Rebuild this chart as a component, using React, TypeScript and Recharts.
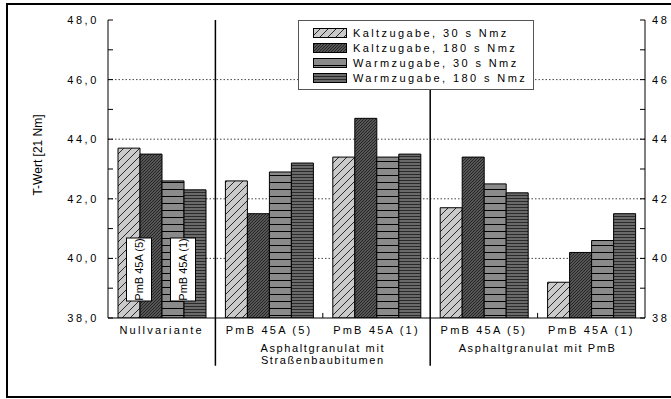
import { BarChart, Bar, XAxis, YAxis, CartesianGrid, ReferenceLine, LabelList } from 'recharts';

const categories = ['Nullvariante', 'PmB 45A (5)', 'PmB 45A (1)', 'PmB 45A (5)', 'PmB 45A (1)'];
const kalt30 = [43.7, 42.6, 43.4, 41.7, 39.2];
const kalt180 = [43.5, 41.5, 44.7, 43.4, 40.2];
const warm30 = [42.6, 42.9, 43.4, 42.5, 40.6];
const warm180 = [42.3, 43.2, 43.5, 42.2, 41.5];

const yTicks = [38, 39, 40, 41, 42, 43, 44, 45, 46, 47, 48];
const gridValues = [40, 42, 44, 46];
const groupLabels = [
  { start: 1, lines: ['Asphaltgranulat mit', 'Straßenbaubitumen'] },
  { start: 3, lines: ['Asphaltgranulat mit PmB'] },
];
// category indices where a group separator / a small boundary tick starts
const separators = [1, 3];
const bottomTicks = [2, 4];
const insideLabels = ['PmB 45A (5)', 'PmB 45A (1)'];

const series = [
  { key: 'kalt30', name: 'Kaltzugabe, 30 s Nmz', fill: 'url(#p1)' },
  { key: 'kalt180', name: 'Kaltzugabe, 180 s Nmz', fill: 'url(#p2)' },
  { key: 'warm30', name: 'Warmzugabe, 30 s Nmz', fill: 'url(#p3)' },
  { key: 'warm180', name: 'Warmzugabe, 180 s Nmz', fill: 'url(#p4)' },
];

const data = categories.map((c, i) => ({
  id: 'g' + i,
  label: c,
  kalt30: kalt30[i],
  kalt180: kalt180[i],
  warm30: warm30[i],
  warm180: warm180[i],
}));

const W = 671;
const H = 399;
const LEFT_W = 108;
const RIGHT_W = 26;
const TOP = 20;
const BOTTOM_H = 81;
const BAND = (W - LEFT_W - RIGHT_W) / categories.length;
const FONT = 'Arial, "Liberation Sans", sans-serif';

const Patterns = () => (
  <svg width={0} height={0} style={{ position: 'absolute' }}>
    <defs>
      <pattern id="p1" width={8} height={8} patternUnits="userSpaceOnUse">
        <rect width={8} height={8} fill="#cacaca" />
        <path d="M0,8 L8,0 M-2,2 L2,-2 M6,10 L10,6" stroke="#000" strokeWidth={0.8} />
      </pattern>
      <pattern id="p2" width={3} height={3} patternUnits="userSpaceOnUse">
        <rect width={3} height={3} fill="#555" />
        <path d="M0,3 L3,0 M-1,1 L1,-1 M2,4 L4,2" stroke="#111" strokeWidth={0.7} />
      </pattern>
      <pattern id="p3" width={4} height={7} patternUnits="userSpaceOnUse">
        <rect width={4} height={7} fill="#8a8a8a" />
        <line x1={0} y1={0.5} x2={4} y2={0.5} stroke="#000" strokeWidth={1} />
      </pattern>
      <pattern id="p4" width={4} height={3} patternUnits="userSpaceOnUse">
        <rect width={4} height={3} fill="#6a6a6a" />
        <line x1={0} y1={0.5} x2={4} y2={0.5} stroke="#2a2a2a" strokeWidth={1} />
      </pattern>
    </defs>
  </svg>
);

const LeftTick = (props: any) => {
  const { x, y, payload } = props;
  const v = payload.value;
  return (
    <g>
      <line x1={x} y1={y} x2={x + 5} y2={y} stroke="#000" />
      {v % 2 === 0 && (
        <text x={x - 9} y={y + 4} textAnchor="end" fontSize={11} letterSpacing={2.6} fontFamily={FONT} fill="#000">
          {v.toFixed(1).replace('.', ',')}
        </text>
      )}
    </g>
  );
};

const RightTick = (props: any) => {
  const { x, y, payload } = props;
  const v = payload.value;
  return (
    <g>
      <line x1={x} y1={y} x2={x - 5} y2={y} stroke="#000" />
      {v % 2 === 0 && (
        <text x={x + 7} y={y + 4} textAnchor="start" fontSize={11} letterSpacing={2.6} fontFamily={FONT} fill="#000">
          {v}
        </text>
      )}
    </g>
  );
};

const TopTick = (props: any) => {
  const { x, y } = props;
  return <line x1={x} y1={y} x2={x} y2={y + 5} stroke="#000" />;
};

const BottomTick = (props: any) => {
  const { x, y, index } = props;
  const group = groupLabels.find((g) => g.start === index);
  return (
    <g fontFamily={FONT} fontSize={11} fill="#000">
      <text x={x} y={y + 16} textAnchor="middle" letterSpacing={2.2}>
        {categories[index]}
      </text>
      {group &&
        group.lines.map((line, i) => (
          <text key={i} x={x + BAND / 2} y={y + 34 + i * 12} textAnchor="middle" letterSpacing={1.6}>
            {line}
          </text>
        ))}
    </g>
  );
};

const AxisTitle = (props: any) => {
  const vb = props.viewBox;
  const cx = vb.x + 38;
  const cy = vb.y + vb.height / 2 - 14;
  return (
    <text x={cx} y={cy} transform={`rotate(-90 ${cx} ${cy})`} textAnchor="middle" dominantBaseline="central" fontSize={12} fontFamily={FONT} fill="#000">
      T-Wert [21 Nm]
    </text>
  );
};

const insideBox = (labelIdx: number) => (props: any) => {
  const { x, y, width, height, index } = props;
  if (index !== 0) return null;
  const cx = x + width - 1;
  const bottom = y + height - 17;
  const top = bottom - 63;
  const cy = (top + bottom) / 2;
  return (
    <g>
      <rect x={cx - 12.5} y={top} width={25} height={63} fill="#fff" stroke="#000" strokeWidth={1} />
      <text x={cx} y={cy} transform={`rotate(-90 ${cx} ${cy})`} textAnchor="middle" dominantBaseline="central" fontSize={11} fontFamily={FONT} fill="#000">
        {insideLabels[labelIdx]}
      </text>
    </g>
  );
};

const Legend = () => (
  <div
    style={{
      position: 'absolute',
      left: 298,
      top: TOP,
      width: 234,
      height: 68,
      background: '#fff',
      border: '1px solid #555',
      fontFamily: FONT,
      fontSize: 11,
      letterSpacing: 2.4,
      color: '#000',
    }}
  >
    {series.map((s, i) => (
      <div key={s.key} style={{ position: 'absolute', left: 14, top: 6 + i * 15, height: 12, display: 'flex', alignItems: 'center' }}>
        <svg width={34} height={10} style={{ marginRight: 6 }}>
          <rect x={0.5} y={0.5} width={33} height={9} fill={s.fill} stroke="#000" />
        </svg>
        <span style={{ whiteSpace: 'nowrap' }}>{s.name}</span>
      </div>
    ))}
  </div>
);

export default function App() {
  return (
    <div style={{ position: 'absolute', left: 0, top: 0, width: W, height: H, background: '#fff', overflow: 'hidden' }}>
      <Patterns />
      <div style={{ position: 'absolute', left: 6, top: 3, width: 700, height: 391, border: '2px solid #000' }} />
      <BarChart
        width={W}
        height={H}
        data={data}
        margin={{ top: TOP, right: 0, bottom: 0, left: 0 }}
        barCategoryGap={10}
        barGap={0}
      >
        <CartesianGrid
          xAxisId="cat"
          yAxisId="left"
          vertical={false}
          horizontalValues={gridValues}
          stroke="#444"
          strokeDasharray="1.5 2"
        />
        <XAxis
          xAxisId="cat"
          dataKey="id"
          height={BOTTOM_H}
          tickSize={0}
          tickMargin={0}
          tickLine={false}
          stroke="#000"
          tick={<BottomTick />}
          interval={0}
        />
        <XAxis
          xAxisId="top"
          dataKey="id"
          orientation="top"
          height={0}
          tickSize={0}
          tickMargin={0}
          tickLine={false}
          stroke="#000"
          tick={<TopTick />}
          interval={0}
        />
        <YAxis
          yAxisId="left"
          width={LEFT_W}
          domain={[38, 48]}
          ticks={yTicks}
          interval={0}
          tickSize={0}
          tickMargin={0}
          tickLine={false}
          stroke="#000"
          tick={<LeftTick />}
          label={<AxisTitle />}
          allowDataOverflow
        />
        <YAxis
          yAxisId="right"
          orientation="right"
          width={RIGHT_W}
          domain={[38, 48]}
          ticks={yTicks}
          interval={0}
          tickSize={0}
          tickMargin={0}
          tickLine={false}
          stroke="#000"
          tick={<RightTick />}
          allowDataOverflow
        />
        {series.map((s, i) => (
          <Bar
            key={s.key}
            xAxisId="cat"
            yAxisId="left"
            dataKey={s.key}
            name={s.name}
            fill={s.fill}
            stroke="#000"
            strokeWidth={1}
            isAnimationActive={false}
          >
            {i === 0 && <LabelList dataKey={s.key} content={insideBox(0)} />}
            {i === 2 && <LabelList dataKey={s.key} content={insideBox(1)} />}
          </Bar>
        ))}
        {separators.map((i) => (
          <ReferenceLine
            key={'sep' + i}
            xAxisId="cat"
            yAxisId="left"
            position="start"
            segment={[{ x: data[i].id, y: 48 }, { x: data[i].id, y: 36.4 }]}
            stroke="#000"
            strokeWidth={1.5}
            ifOverflow="visible"
          />
        ))}
        {bottomTicks.map((i) => (
          <ReferenceLine
            key={'bt' + i}
            xAxisId="cat"
            yAxisId="left"
            position="start"
            segment={[{ x: data[i].id, y: 38 }, { x: data[i].id, y: 38.17 }]}
            stroke="#000"
            strokeWidth={1}
            ifOverflow="visible"
          />
        ))}
      </BarChart>
      <Legend />
    </div>
  );
}
